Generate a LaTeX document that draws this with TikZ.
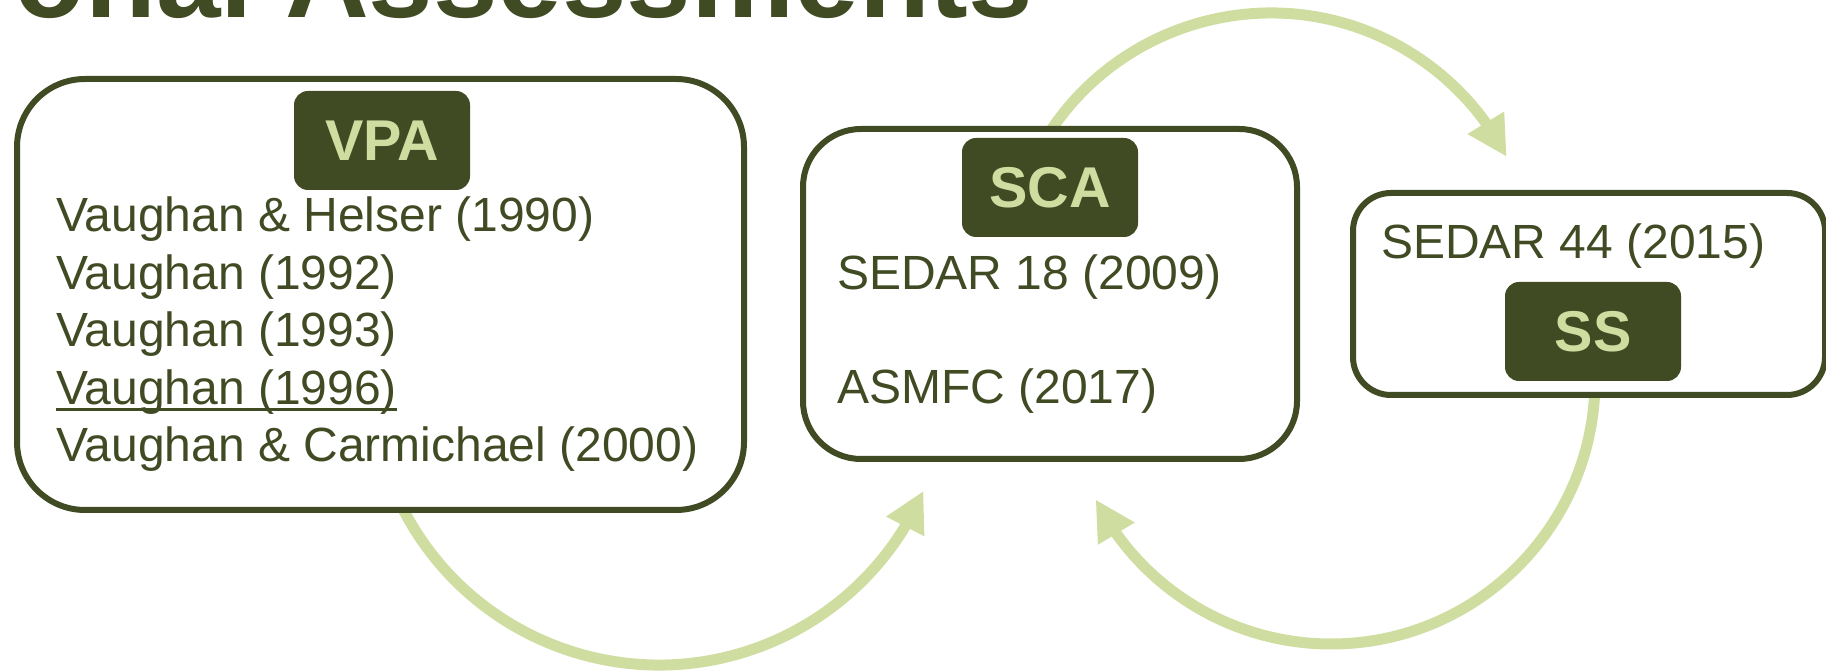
\documentclass[tikz,border=0pt]{standalone}
\usepackage{fontspec}
\setmainfont{Liberation Sans}
\usetikzlibrary{arrows.meta,bending}
\definecolor{darkolive}{RGB}{64,75,36}
\definecolor{paleleaf}{RGB}{208,221,160}
\begin{document}
\begin{tikzpicture}[x=1pt,y=1pt,
  bigbox/.style={draw=darkolive, line width=6pt, fill=white, inner sep=0pt},
  tag/.style={fill=darkolive, text=paleleaf, rounded corners=14pt, minimum width=176pt, minimum height=99pt, inner sep=0pt, font=\fontsize{57.5}{60}\selectfont\bfseries},
  entry/.style={text=darkolive, inner sep=0pt, anchor=base west, font=\fontsize{48}{57}\selectfont},
  flowarc/.style={draw=paleleaf, line width=11pt, -{Triangle[length=40pt,width=40pt]}}
]
\useasboundingbox (0,0) rectangle (1826,671);

% title (cut off at the top)
\node[anchor=base east, inner sep=0pt, text=darkolive, font=\fontsize{116}{130}\selectfont\bfseries] (title) at (1033.5,653) {onal Assessments};

% arcs (drawn first, boxes cover their starts)
\coordinate (c1) at (659,294);
\coordinate (c2) at (1271,393);
\coordinate (c3) at (1331,291);
\draw[flowarc] ([shift={(205:288)}]c1) arc[start angle=205, end angle=336.7, radius=288];
\draw[flowarc] ([shift={(152:265)}]c2) arc[start angle=152, end angle=27.2, radius=265];
\draw[flowarc] ([shift={(-1:264)}]c3) arc[start angle=-1, end angle=-153.1, radius=264];

% boxes
\node[bigbox, minimum width=727pt, minimum height=431pt, rounded corners=68pt] (vpabox) at (380.5,376.5) {};
\node[bigbox, minimum width=494pt, minimum height=330pt, rounded corners=58pt] (scabox) at (1050,377) {};
\node[bigbox, minimum width=472pt, minimum height=202pt, rounded corners=38pt] (ssbox) at (1589,377) {};

% tags
\node[tag] (vpa) at (382,530.5) {VPA};
\node[tag] (sca) at (1050,483.5) {SCA};
\node[tag] (ss) at (1593,339.5) {SS};

% entries
\node[entry] (v1) at (56,439) {Vaughan \& Helser (1990)};
\node[entry] (v2) at (56,381) {Vaughan (1992)};
\node[entry] (v3) at (56,324) {Vaughan (1993)};
\node[entry] (v4) at (56,266) {Vaughan (1996)};
\node[entry] (v5) at (56,209) {Vaughan \& Carmichael (2000)};
\draw[darkolive, line width=3pt] ([yshift=-5pt]v4.base west) -- ([yshift=-5pt]v4.base east);

\node[entry] (s1) at (837,381) {SEDAR 18 (2009)};
\node[entry] (s2) at (837,267) {ASMFC (2017)};
\node[entry] (s3) at (1381,412) {SEDAR 44 (2015)};
\end{tikzpicture}
\end{document}
